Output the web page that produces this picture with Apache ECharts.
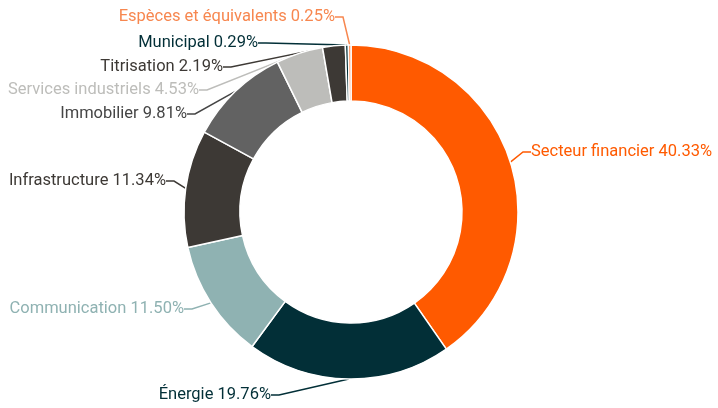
<!DOCTYPE html>
<html lang="fr">
<head>
<meta charset="utf-8">
<title>Répartition sectorielle</title>
<script src="https://cdn.jsdelivr.net/npm/echarts@6/dist/echarts.min.js"></script>
<style>
    html, body { margin: 0; padding: 0; background: #fff; }
    #chart { width: 718px; height: 408px; }
</style>
</head>
<body>
<div id="chart"></div>
<script>
    // données du graphique
    var sectors = ['Secteur financier', 'Énergie', 'Communication', 'Infrastructure', 'Immobilier',
        'Services industriels', 'Titrisation', 'Municipal', 'Espèces et équivalents'];
    var weights = [40.33, 19.76, 11.50, 11.34, 9.81, 4.53, 2.19, 0.29, 0.25];
    var sliceColors = ['#ff5a00', '#022f37', '#8fb2b2', '#3d3935', '#626262',
        '#bdbdba', '#3d3935', '#022f37', '#f7874f'];
    var labelColors = ['#ff5a00', '#022f37', '#8fb2b2', '#3d3935', '#454545',
        '#bdbdba', '#3d3935', '#022f37', '#f7874f'];

    // placement des étiquettes (ancre, alignement)
    var labelSpots = [
        [531, 152, 'left'],
        [271, 395, 'right'],
        [184, 309, 'right'],
        [166, 181, 'right'],
        [187, 114, 'right'],
        [199, 90, 'right'],
        [223, 67, 'right'],
        [258, 43, 'right'],
        [335, 17, 'right']
    ];

    var chart = echarts.init(document.getElementById('chart'));

    var pieData = sectors.map(function (name, i) {
        return {
            name: name,
            value: weights[i],
            itemStyle: { color: sliceColors[i] },
            label: { color: labelColors[i] },
            labelLine: { lineStyle: { color: labelColors[i] } }
        };
    });

    chart.setOption({
        animation: false,
        series: [{
            type: 'pie',
            center: [351, 212],
            radius: [111, 167],
            startAngle: 90,
            clockwise: true,
            avoidLabelOverlap: false,
            itemStyle: {
                borderColor: '#fff',
                borderWidth: 1.5
            },
            label: {
                fontFamily: 'Roboto',
                fontSize: 16.5,
                formatter: function (p) {
                    return p.name + ' ' + p.value.toFixed(2) + '%';
                }
            },
            labelLine: {
                show: true,
                length: 8,
                length2: 8,
                lineStyle: { width: 1.5 }
            },
            labelLayout: function (params) {
                var s = labelSpots[params.dataIndex];
                return {
                    x: s[0],
                    y: s[1],
                    align: s[2],
                    verticalAlign: 'middle'
                };
            },
            data: pieData
        }]
    });
</script>
</body>
</html>
